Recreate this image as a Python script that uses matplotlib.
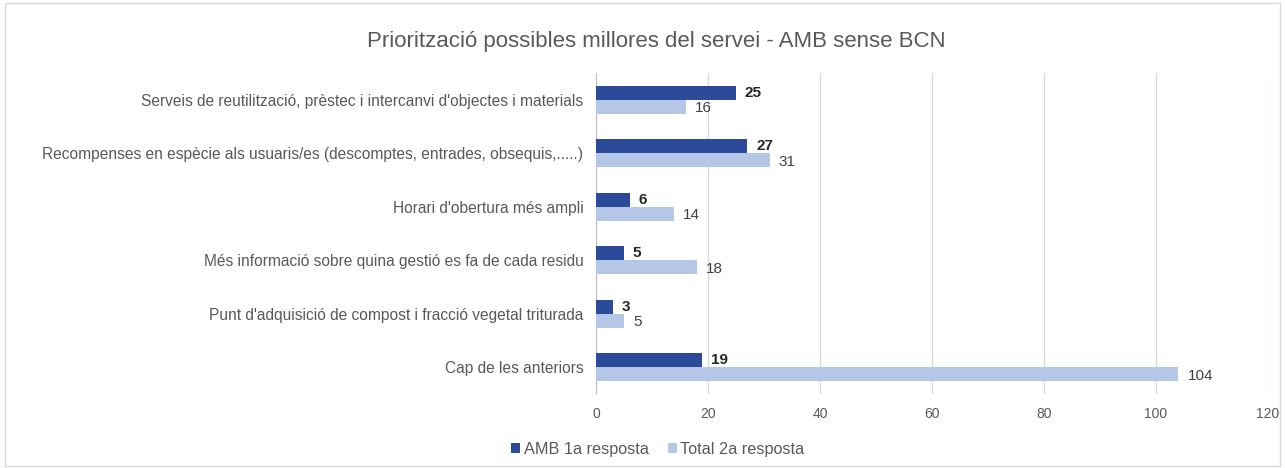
"""
Prioritzacio possibles millores del servei - AMB sense BCN (barres horitzontals).
"""
import numpy as np
import matplotlib.pyplot as plt
from matplotlib.patches import Rectangle

# data
categories = [
    "Serveis de reutilització, prèstec i intercanvi d'objectes i materials",
    "Recompenses en espècie als usuaris/es (descomptes, entrades, obsequis,.....)",
    "Horari d'obertura més ampli",
    "Més informació sobre quina gestió es fa de cada residu",
    "Punt d'adquisició de compost i fracció vegetal triturada",
    "Cap de les anteriors",
]
amb_1a = [25, 27, 6, 5, 3, 19]
total_2a = [16, 31, 14, 18, 5, 104]
series_names = ["AMB 1a resposta", "Total 2a resposta"]
x_ticks = [0, 20, 40, 60, 80, 100, 120]

DARK = "#2C4A9A"
LIGHT = "#B4C7E7"
TXT = "#595959"

plt.rcParams["font.family"] = ["Liberation Sans", "DejaVu Sans"]

fig = plt.figure(figsize=(12.85, 4.68), dpi=100)
ax = fig.add_axes([0.4638, 0.158, 0.5230, 0.686])

y = np.arange(len(categories))
h = 0.26
ax.barh(y - h / 2, amb_1a, height=h, color=DARK, label=series_names[0], zorder=3)
ax.barh(y + h / 2, total_2a, height=h, color=LIGHT, label=series_names[1], zorder=3)

for yi, v in zip(y, amb_1a):
    ax.text(v + 1.6, yi - h / 2, str(v), va="center", ha="left",
            fontsize=11, fontweight="bold", color="#262626")
for yi, v in zip(y, total_2a):
    ax.text(v + 1.6, yi + h / 2 + 0.03, str(v), va="center", ha="left",
            fontsize=11, color="#404040")

ax.set_xlim(0, 120)
ax.set_ylim(len(categories) - 0.5, -0.5)
ax.set_xticks(x_ticks)
ax.set_yticks(y)
ax.set_yticklabels(categories, fontsize=11.2, color=TXT)
ax.tick_params(axis="x", labelsize=10, colors=TXT, length=0, pad=9)
ax.tick_params(axis="y", length=0, pad=9)
ax.grid(axis="x", color="#D9D9D9", linewidth=0.9, zorder=0)
for s in ["top", "right", "bottom"]:
    ax.spines[s].set_visible(False)
ax.spines["left"].set_color("#BFBFBF")

fig.text(0.511, 0.912, "Priorització possibles millores del servei - AMB sense BCN",
         ha="center", va="center", fontsize=16, color=TXT)

leg = fig.legend(loc="center", bbox_to_anchor=(0.512, 0.04), ncol=2, frameon=False,
                 fontsize=11.7, handlelength=0.55, handleheight=0.55, handletextpad=0.2,
                 columnspacing=1.2)
for t in leg.get_texts():
    t.set_color(TXT)

fig.patches.append(Rectangle((0.004, 0.004), 0.992, 0.99, transform=fig.transFigure,
                             fill=False, edgecolor="#D9D9D9", linewidth=1))

fig.savefig("out.png", dpi=100)
